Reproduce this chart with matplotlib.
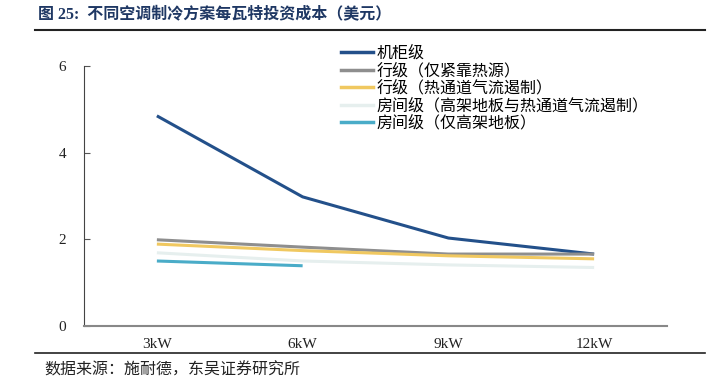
import matplotlib.pyplot as plt
from matplotlib.lines import Line2D

categories = ['3kW', '6kW', '9kW', '12kW']
rack_level = [4.85, 2.98, 2.03, 1.66]
row_close = [1.99, 1.82, 1.66, 1.66]
row_hot_aisle = [1.89, 1.74, 1.62, 1.55]
room_raised_hot = [1.69, 1.50, 1.41, 1.35]
room_raised = [1.50, 1.39]

names = ['机柜级', '行级（仅紧靠热源）', '行级（热通道气流遏制）',
         '房间级（高架地板与热通道气流遏制）', '房间级（仅高架地板）']
colors = ['#23508A', '#8E8E8E', '#F0C860', '#E6EFEE', '#4AACC8']

cjk = ['Liberation Serif', 'Noto Sans CJK SC', 'DejaVu Sans']
serif = ['Liberation Serif', 'DejaVu Serif']

fig = plt.figure(figsize=(7.07, 3.88), dpi=100)
ax = fig.add_axes([84 / 707, 1 - 326 / 388, (667 - 84) / 707, (326 - 66) / 388])

series = [rack_level, row_close, row_hot_aisle, room_raised_hot, room_raised]
x = list(range(len(categories)))
for vals, c in zip(series, colors):
    ax.plot(x[:len(vals)], vals, color=c, lw=2.2, solid_capstyle='butt')

ax.set_xlim(-0.5, 3.5)
ax.set_ylim(0, 6)
ax.set_yticks([0, 2, 4, 6])
ax.set_xticks(x)
ax.set_xticklabels(categories)
for lab in ax.get_xticklabels() + ax.get_yticklabels():
    lab.set_family(serif)
    lab.set_fontsize(11)
    lab.set_color('#222222')
ax.tick_params(axis='x', length=0, pad=9)
ax.tick_params(axis='y', direction='in', length=4, width=0.8, color='#555555', pad=13)
ax.spines['top'].set_visible(False)
ax.spines['right'].set_visible(False)
ax.spines['left'].set_color('#444444')
ax.spines['bottom'].set_color('#888888')
ax.spines['bottom'].set_linewidth(1.5)

handles = [Line2D([0], [0], color=c, lw=2.5) for c in colors]
leg = ax.legend(handles, names, loc='upper left', bbox_to_anchor=(341 / 707, 1 - 46 / 388),
                bbox_transform=fig.transFigure,
                frameon=False, prop={'family': cjk, 'size': 11.5},
                handlelength=2.0, handletextpad=0.25, labelspacing=0.09,
                borderaxespad=0, borderpad=0)

fig.text(38 / 707, 1 - 14 / 388, '图 25:  不同空调制冷方案每瓦特投资成本（美元）',
         family=cjk, fontsize=11.5, fontweight='bold', color='#1F3864', va='center')
fig.add_artist(Line2D([35 / 707, 705 / 707], [1 - 30 / 388] * 2, color='#222222', lw=1.5))
fig.add_artist(Line2D([35 / 707, 705 / 707], [1 - 353 / 388] * 2, color='#222222', lw=1.2))
fig.text(44 / 707, 1 - 371 / 388, '数据来源：施耐德，东吴证券研究所',
         family=cjk, fontsize=11.5, color='#222222', va='center')

fig.savefig('out.png', dpi=100)
